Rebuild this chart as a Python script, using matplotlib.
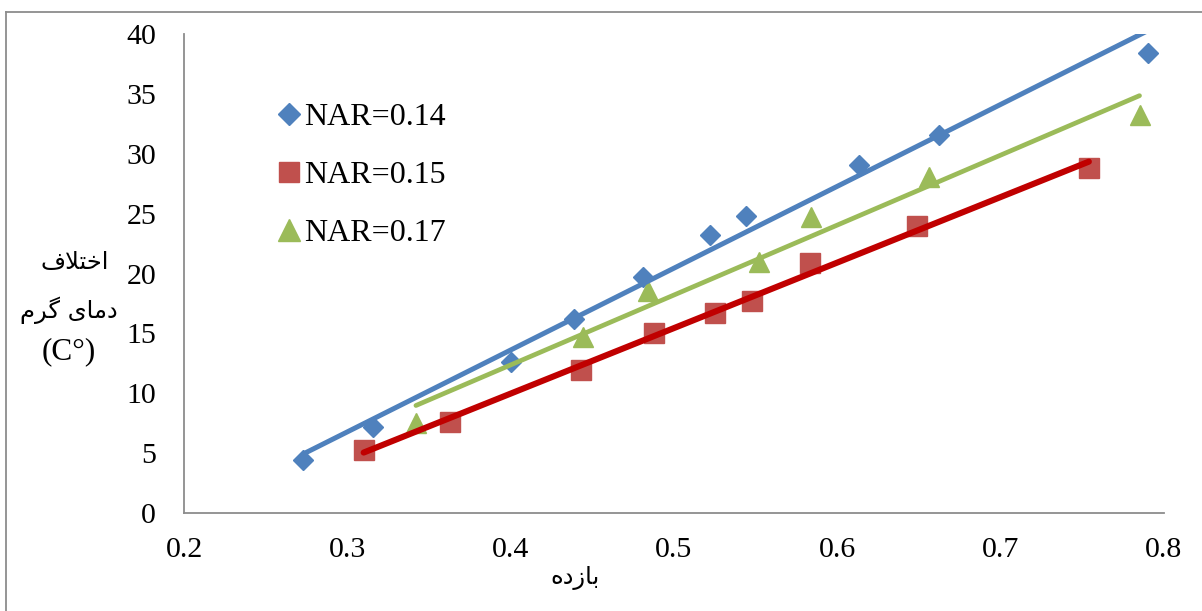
import numpy as np
import matplotlib
matplotlib.use("Agg")
import matplotlib.pyplot as plt
from matplotlib.lines import Line2D

# Series: efficiency (x) vs. hot-side temperature difference (y)
labels = ["NAR=0.14", "NAR=0.15", "NAR=0.17"]

x_014 = [0.273, 0.316, 0.400, 0.439, 0.481, 0.522, 0.544, 0.613, 0.662, 0.790]
y_014 = [4.4, 7.2, 12.6, 16.2, 19.7, 23.2, 24.8, 29.1, 31.6, 38.4]

x_015 = [0.310, 0.363, 0.443, 0.488, 0.525, 0.548, 0.583, 0.649, 0.754]
y_015 = [5.3, 7.6, 11.9, 15.0, 16.7, 17.7, 20.9, 24.0, 28.8]

x_017 = [0.342, 0.444, 0.484, 0.552, 0.584, 0.656, 0.785]
y_017 = [7.5, 14.7, 18.5, 21.0, 24.7, 28.1, 33.2]

x_ticks = [0.2, 0.3, 0.4, 0.5, 0.6, 0.7, 0.8]
y_ticks = [0, 5, 10, 15, 20, 25, 30, 35, 40]

# Persian labels written in visual order with Arabic presentation forms
ylabel_line1 = "\uFED1\uFEFC\uFE98\uFEA7\uFE8D"                 # اختلاف
ylabel_line2 = "\uFEE1\uFEAE\uFB94 \uFEEF\uFE8E\uFEE3\uFEA9"     # دمای گرم
ylabel_line3 = "(C\u00b0)"
xlabel_text = "\uFEE9\uFEA9\uFEAF\uFE8E\uFE91"                   # بازده

series = [
    dict(x=x_014, y=y_014, marker="D", ms=10.5, mcolor="#4F81BD", lcolor="#4F81BD", lw=3.6),
    dict(x=x_015, y=y_015, marker="s", ms=14.0, mcolor="#C0504D", lcolor="#C00000", lw=4.4),
    dict(x=x_017, y=y_017, marker="^", ms=14.5, mcolor="#9BBB59", lcolor="#9BBB59", lw=3.4),
]

plt.rcParams["font.family"] = ["Liberation Serif", "DejaVu Serif"]

fig = plt.figure(figsize=(12.02, 6.11), dpi=100)
ax = fig.add_axes([184 / 1202, 1 - 513 / 611, (1164 - 184) / 1202, (513 - 34) / 611])

handles = []
for s in series:
    ax.plot(s["x"], s["y"], linestyle="none", marker=s["marker"], ms=s["ms"],
            color=s["mcolor"], mec=s["mcolor"], zorder=2, clip_on=False)
    # linear trendline over the series' own x-range
    k, b = np.polyfit(s["x"], s["y"], 1)
    xs = np.array([min(s["x"]), max(s["x"])])
    ax.plot(xs, k * xs + b, color=s["lcolor"], lw=s["lw"],
            solid_capstyle="round", zorder=3)
    handles.append(Line2D([], [], linestyle="none", marker=s["marker"],
                          ms=s["ms"] * 1.05, color=s["mcolor"], mec=s["mcolor"]))

ax.set_xlim(0.2, 0.8)
ax.set_ylim(0, 40)
ax.set_xticks(x_ticks)
ax.set_xticklabels([f"{t:.1f}" for t in x_ticks])
ax.set_yticks(y_ticks)
ax.set_yticklabels([str(t) for t in y_ticks])
ax.tick_params(axis="both", length=0, labelsize=21.5)
ax.tick_params(axis="x", pad=17)
ax.tick_params(axis="y", pad=20)

for side in ("top", "right"):
    ax.spines[side].set_visible(False)
for side in ("left", "bottom"):
    ax.spines[side].set_color("#8C8C8C")
    ax.spines[side].set_linewidth(1.3)

leg = ax.legend(handles, labels, loc="upper left",
                bbox_to_anchor=(0.075, 0.884), frameon=False,
                fontsize=23, handletextpad=-0.15, labelspacing=0.9,
                handlelength=1.2, borderaxespad=0)

# Axis titles
fig.text(75 / 1202, 1 - 262 / 611, ylabel_line1, family=["DejaVu Sans"],
         fontsize=17.5, ha="center", va="center")
fig.text(69 / 1202, 1 - 310 / 611, ylabel_line2, family=["DejaVu Sans"],
         fontsize=17.5, ha="center", va="center")
fig.text(69 / 1202, 1 - 352 / 611, ylabel_line3, fontsize=22.5,
         ha="center", va="center")
fig.text(575 / 1202, 1 - 578 / 611, xlabel_text, family=["DejaVu Sans"],
         fontsize=17.5, ha="center", va="center")

# Outer chart frame
fig.add_artist(Line2D([5.5 / 1202, 5.5 / 1202], [0, 1 - 11.5 / 611],
                      transform=fig.transFigure, color="#8C8C8C", lw=1.3))
fig.add_artist(Line2D([5.5 / 1202, 1], [1 - 11.5 / 611, 1 - 11.5 / 611],
                      transform=fig.transFigure, color="#8C8C8C", lw=1.3))

fig.savefig("out.png", dpi=100)
